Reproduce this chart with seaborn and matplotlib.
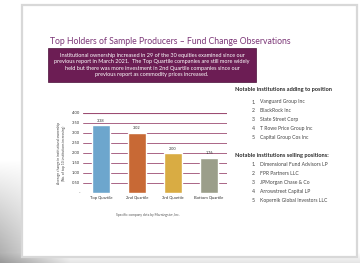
import numpy as np
import pandas as pd
import matplotlib
matplotlib.use("Agg")
import matplotlib.pyplot as plt
from matplotlib.patches import Rectangle
import seaborn as sns

# chart data
quartiles = ["Top Quartile", "2nd Quartile", "3rd Quartile", "Bottom Quartile"]
avg_change = [3.38, 3.02, 2.00, 1.76]
bar_colors = ["#5DA9DD", "#E0621C", "#F2B62A", "#9EA187"]
y_ticks = [0, 0.5, 1.0, 1.5, 2.0, 2.5, 3.0, 3.5, 4.0]
y_tick_labels = ["-", "0.50", "1.00", "1.50", "2.00", "2.50", "3.00", "3.50", "4.00"]

title = "Top Holders of Sample Producers \u2013 Fund Change Observations"
summary = ("Institutional ownership increased in 29 of the 30 equities examined since our\n"
           "previous report in March 2021.  The Top Quartile companies are still more widely\n"
           "held but there was more investment in 2nd Quartile companies since our\n"
           "previous report as commodity prices increased.")
adding_head = "Notable institutions adding to position"
adding = ["Vanguard Group Inc", "BlackRock Inc", "State Street Corp",
          "T Rowe Price Group Inc", "Capital Group Cos Inc"]
selling_head = "Notable institutions selling positions:"
selling = ["Dimensional Fund Advisors LP", "FPR Partners LLC", "JPMorgan Chase & Co",
           "Arrowstreet Capital LP", "Kopernik Global Investors LLC"]
y_label = "Average change in institutional ownership\n(No. of top 10 institutions increasing)"
caption = "Specific company data by Morningstar, Inc."

sns.set_theme(style="white")
plt.rcParams["font.family"] = ["Lato", "DejaVu Sans"]

W, H = 360, 263
fig = plt.figure(figsize=(W / 100, H / 100), dpi=100)


def fx(px):
    return px / W


def fy(py):
    return 1 - py / H


# background with soft grey shadow at lower left
bg = fig.add_axes([0, 0, 1, 1])
yy, xx = np.mgrid[0:H, 0:W]
shade = np.clip((yy - 160) / 90, 0, 1) * np.clip(1 - xx / 70, 0, 1) * 0.30
shade += np.clip((yy - 252) / 10, 0, 1) * 0.10
img = np.dstack([1 - shade] * 3)
bg.imshow(img, extent=[0, W, H, 0], aspect="auto")
bg.add_patch(Rectangle((22, 5), 335, 252, facecolor="white", edgecolor="#d8d8d8", lw=1.6))
bg.set_xlim(0, W)
bg.set_ylim(H, 0)
bg.axis("off")

# title and purple box
fig.text(fx(50), fy(41), title, color="#7B3576", fontsize=6.2, va="center", ha="left")
bg.add_patch(Rectangle((48, 48), 208, 34, facecolor="#6C1D54", edgecolor="#4a1038", lw=0.5))
fig.text(fx(152), fy(65), summary, color="white", fontsize=3.95, ha="center", va="center",
         linespacing=1.3)

# right-hand lists
fig.text(fx(235), fy(90), adding_head, fontsize=4.1, fontweight="bold", va="center", color="#2a2a2a")
for i, name in enumerate(adding):
    y = 102 + i * 8.8
    fig.text(fx(252), fy(y), f"{i + 1}.", fontsize=3.6, va="center", color="#444444")
    fig.text(fx(260), fy(y), name, fontsize=3.6, va="center", color="#444444")
fig.text(fx(235), fy(155), selling_head, fontsize=4.1, fontweight="bold", va="center", color="#2a2a2a")
for i, name in enumerate(selling):
    y = 164 + i * 9.1
    fig.text(fx(252), fy(y), f"{i + 1}.", fontsize=3.6, va="center", color="#444444")
    fig.text(fx(260), fy(y), name, fontsize=3.6, va="center", color="#444444")

# bar chart
ax = fig.add_axes([fx(83), fy(193), fx(227 - 83), (193 - 113) / H])
df = pd.DataFrame({"quartile": quartiles, "value": avg_change})
sns.barplot(data=df, x="quartile", y="value", hue="quartile", palette=bar_colors,
            width=0.5, legend=False, ax=ax, zorder=3)
ax.set_ylim(0, 4)
ax.set_xlim(-0.5, 3.5)
ax.set_yticks(y_ticks)
ax.set_yticklabels(y_tick_labels)
for t in y_ticks[1:]:
    ax.axhline(t, color="#9C4C72", lw=0.6 if t < 4 else 0.8, zorder=1)
for p, v in zip(ax.patches, avg_change):
    ax.text(p.get_x() + p.get_width() / 2, v + 0.12, f"{v:.2f}", ha="center", va="bottom",
            fontsize=2.8, color="#333333")
ax.tick_params(axis="both", labelsize=3.0, length=0, pad=2, colors="#333333")
ax.set_xlabel("")
ax.set_ylabel(y_label, fontsize=2.4, color="#444444", labelpad=4, linespacing=1.3)
for s in ax.spines.values():
    s.set_visible(False)
ax.patch.set_alpha(0)

fig.text(fx(148), fy(215), caption, fontsize=2.4, ha="center", va="center", color="#555555")

fig.savefig("out.png", dpi=100)
